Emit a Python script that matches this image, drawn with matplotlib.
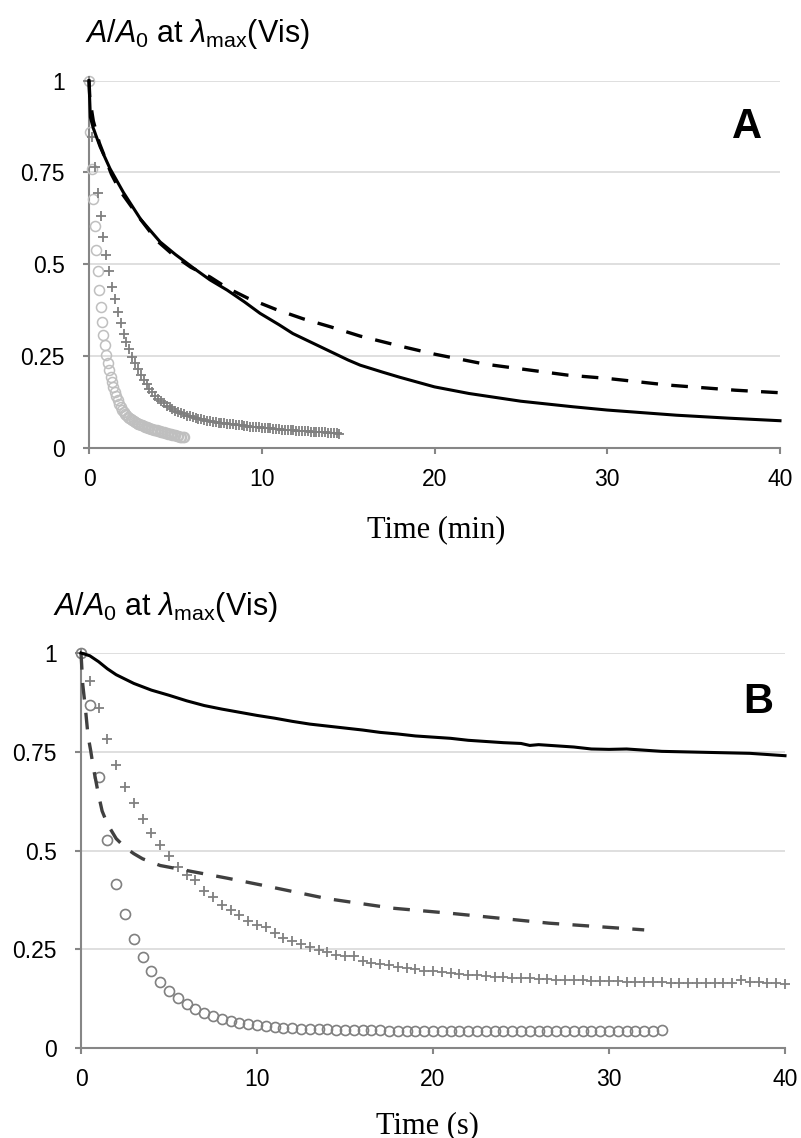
#!/usr/bin/env python3
# decay_panels.py

import matplotlib
matplotlib.use("Agg")
import matplotlib.pyplot as plt
import numpy as np

plt.rcParams["font.family"] = ["Liberation Sans", "DejaVu Sans"]
plt.rcParams["mathtext.fontset"] = "custom"
plt.rcParams["mathtext.rm"] = "Liberation Sans"
plt.rcParams["mathtext.it"] = "Liberation Sans:italic"
plt.rcParams["mathtext.bf"] = "Liberation Sans:bold"

# ---- panel A (time in minutes) ----
time_a_solid = [0, 0.03, 0.08, 0.25, 0.64, 1.22, 2.0, 3.0, 4.12, 5.0,
                6.05, 7.0, 8.0, 9.0, 9.9, 11.0, 11.8, 13.0, 13.8, 15.0,
                15.7, 17.0, 18.0, 20.0, 22.0, 25.0, 28.0, 30.0, 34.0, 37.0,
                40.0]
a_solid = [1.0, 0.96, 0.9, 0.87, 0.82, 0.76, 0.695, 0.622, 0.561, 0.527,
           0.49, 0.458, 0.43, 0.398, 0.367, 0.336, 0.312, 0.285, 0.267, 0.24,
           0.226, 0.207, 0.193, 0.167, 0.149, 0.128, 0.113, 0.104, 0.09, 0.082,
           0.075]

time_a_dash = [0, 0.05, 0.25, 0.6, 1.3, 1.8, 2.96, 3.92, 4.89, 5.9,
               7.0, 8.0, 9.2, 10.8, 12.4, 14.0, 15.7, 18.0, 20.0, 22.9,
               27.7, 30.0, 33.5, 37.4, 40.0]
a_dash = [1.0, 0.95, 0.89, 0.83, 0.745, 0.7, 0.624, 0.565, 0.525, 0.492,
          0.466, 0.436, 0.408, 0.378, 0.352, 0.33, 0.305, 0.278, 0.256, 0.229,
          0.199, 0.19, 0.172, 0.158, 0.151]

# crosses sampled every 10 s, circles every 5 s
cross_a_sec = [0, 10, 20, 30, 40, 50, 60, 70, 80, 90,
               100, 110, 120, 130, 140, 150, 160, 170, 180, 190,
               200, 210, 220, 230, 240, 250, 260, 270, 280, 290,
               300, 310, 320, 330, 340, 350, 360, 370, 380, 390,
               400, 410, 420, 430, 440, 450, 460, 470, 480, 490,
               500, 510, 520, 530, 540, 550, 560, 570, 580, 590,
               600, 610, 620, 630, 640, 650, 660, 670, 680, 690,
               700, 710, 720, 730, 740, 750, 760, 770, 780, 790,
               800, 810, 820, 830, 840, 850, 860, 870]
cross_a = [1.0, 0.846, 0.765, 0.693, 0.631, 0.575, 0.525, 0.483, 0.439, 0.406,
           0.371, 0.34, 0.312, 0.29, 0.269, 0.249, 0.231, 0.215, 0.199, 0.186,
           0.174, 0.162, 0.152, 0.143, 0.135, 0.128, 0.122, 0.116, 0.111, 0.106,
           0.102, 0.098, 0.095, 0.092, 0.089, 0.087, 0.085, 0.083, 0.081, 0.079,
           0.077, 0.075, 0.074, 0.072, 0.071, 0.07, 0.069, 0.068, 0.067, 0.066,
           0.065, 0.064, 0.063, 0.062, 0.061, 0.06, 0.059, 0.058, 0.058, 0.057,
           0.056, 0.055, 0.055, 0.054, 0.053, 0.053, 0.052, 0.051, 0.051, 0.05,
           0.049, 0.049, 0.048, 0.047, 0.047, 0.046, 0.046, 0.045, 0.045, 0.044,
           0.044, 0.043, 0.043, 0.042, 0.042, 0.041, 0.041, 0.04]

circle_a_sec = [0, 5, 10, 15, 20, 25, 30, 35, 40, 45,
                50, 55, 60, 65, 70, 75, 80, 85, 90, 95,
                100, 105, 110, 115, 120, 125, 130, 135, 140, 145,
                150, 155, 160, 165, 170, 175, 180, 185, 190, 195,
                200, 205, 210, 215, 220, 225, 230, 235, 240, 245,
                250, 255, 260, 265, 270, 275, 280, 285, 290, 295,
                300, 305, 310, 315, 320, 325, 330]
circle_a = [1.0, 0.86, 0.76, 0.679, 0.604, 0.539, 0.483, 0.43, 0.385, 0.344,
            0.308, 0.281, 0.254, 0.232, 0.212, 0.195, 0.18, 0.166, 0.153, 0.141,
            0.13, 0.12, 0.112, 0.105, 0.099, 0.094, 0.09, 0.086, 0.082, 0.079,
            0.076, 0.073, 0.071, 0.069, 0.067, 0.065, 0.063, 0.062, 0.06, 0.059,
            0.057, 0.056, 0.055, 0.053, 0.052, 0.051, 0.05, 0.049, 0.047, 0.046,
            0.045, 0.044, 0.043, 0.042, 0.041, 0.04, 0.039, 0.038, 0.037, 0.036,
            0.035, 0.034, 0.033, 0.032, 0.032, 0.031, 0.03]

# ---- panel B (time in seconds) ----
time_b_solid = [0, 0.5, 1, 1.5, 2, 3, 4, 5, 6, 7,
                8, 9, 10, 11, 12, 13, 14, 15, 16, 17,
                18, 19, 20, 21, 22, 23, 24, 25, 25.5, 26,
                27, 28, 29, 30, 31, 32, 33, 34, 35, 36,
                37, 38, 39, 40]
b_solid = [1.0, 0.993, 0.978, 0.96, 0.945, 0.923, 0.906, 0.893, 0.879, 0.867,
           0.858, 0.85, 0.842, 0.835, 0.827, 0.82, 0.815, 0.81, 0.805, 0.799,
           0.795, 0.79, 0.787, 0.784, 0.779, 0.776, 0.773, 0.771, 0.766, 0.768,
           0.765, 0.762, 0.757, 0.756, 0.757, 0.754, 0.751, 0.75, 0.749, 0.748,
           0.747, 0.746, 0.743, 0.74]

time_b_dash = [0, 0.1, 0.25, 0.4, 0.55, 0.7, 0.85, 1.0, 1.2, 1.5,
               2.0, 2.5, 3.0, 3.5, 4.5, 6.4, 8.3, 10.2, 14.0, 17.7,
               21.0, 26.6, 32.0]
b_dash = [1.0, 0.92, 0.86, 0.79, 0.753, 0.71, 0.675, 0.64, 0.6, 0.567,
          0.53, 0.508, 0.492, 0.479, 0.462, 0.446, 0.43, 0.413, 0.378, 0.354,
          0.341, 0.316, 0.299]

cross_b_sec = [0, 0.5, 1, 1.5, 2, 2.5, 3, 3.5, 4, 4.5,
               5, 5.5, 6, 6.5, 7, 7.5, 8, 8.5, 9, 9.5,
               10, 10.5, 11, 11.5, 12, 12.5, 13, 13.5, 14, 14.5,
               15, 15.5, 16, 16.5, 17, 17.5, 18, 18.5, 19, 19.5,
               20, 20.5, 21, 21.5, 22, 22.5, 23, 23.5, 24, 24.5,
               25, 25.5, 26, 26.5, 27, 27.5, 28, 28.5, 29, 29.5,
               30, 30.5, 31, 31.5, 32, 32.5, 33, 33.5, 34, 34.5,
               35, 35.5, 36, 36.5, 37, 37.5, 38, 38.5, 39, 39.5,
               40]
cross_b = [1.0, 0.93, 0.86, 0.782, 0.716, 0.661, 0.62, 0.579, 0.545, 0.514,
           0.486, 0.459, 0.438, 0.425, 0.398, 0.383, 0.363, 0.349, 0.337, 0.322,
           0.311, 0.306, 0.29, 0.279, 0.272, 0.263, 0.256, 0.249, 0.243, 0.236,
           0.234, 0.232, 0.219, 0.216, 0.212, 0.209, 0.205, 0.202, 0.199, 0.196,
           0.194, 0.192, 0.19, 0.188, 0.186, 0.185, 0.183, 0.181, 0.18, 0.178,
           0.177, 0.176, 0.175, 0.174, 0.173, 0.172, 0.171, 0.171, 0.17, 0.17,
           0.169, 0.169, 0.168, 0.168, 0.167, 0.166, 0.166, 0.165, 0.165, 0.165,
           0.164, 0.164, 0.164, 0.164, 0.165, 0.173, 0.167, 0.166, 0.165, 0.164,
           0.163]

circle_b_sec = [0, 0.5, 1, 1.5, 2, 2.5, 3, 3.5, 4, 4.5,
                5, 5.5, 6, 6.5, 7, 7.5, 8, 8.5, 9, 9.5,
                10, 10.5, 11, 11.5, 12, 12.5, 13, 13.5, 14, 14.5,
                15, 15.5, 16, 16.5, 17, 17.5, 18, 18.5, 19, 19.5,
                20, 20.5, 21, 21.5, 22, 22.5, 23, 23.5, 24, 24.5,
                25, 25.5, 26, 26.5, 27, 27.5, 28, 28.5, 29, 29.5,
                30, 30.5, 31, 31.5, 32, 32.5, 33]
circle_b = [1.0, 0.868, 0.687, 0.527, 0.414, 0.338, 0.276, 0.231, 0.196, 0.166,
            0.145, 0.127, 0.111, 0.099, 0.088, 0.082, 0.073, 0.068, 0.064, 0.061,
            0.058, 0.055, 0.053, 0.051, 0.05, 0.049, 0.048, 0.047, 0.047, 0.046,
            0.046, 0.045, 0.045, 0.045, 0.045, 0.044, 0.044, 0.044, 0.044, 0.044,
            0.044, 0.044, 0.044, 0.044, 0.044, 0.044, 0.044, 0.044, 0.044, 0.044,
            0.044, 0.044, 0.044, 0.044, 0.044, 0.044, 0.044, 0.044, 0.044, 0.044,
            0.044, 0.044, 0.044, 0.044, 0.044, 0.044, 0.045]

y_ticks = [0, 0.25, 0.5, 0.75, 1]
y_tick_labels = ["0", "0.25", "0.5", "0.75", "1"]
x_ticks = [0, 10, 20, 30, 40]

AXIS_GRAY = "#868686"
GRID_GRAY = "#d9d9d9"
DASH = (0, (5, 4))
W, H = 801, 1138


def style_axes(ax):
    ax.set_xlim(0, 40)
    ax.set_ylim(0, 1)
    ax.set_xticks(x_ticks)
    ax.set_yticks(y_ticks)
    ax.set_yticklabels(y_tick_labels)
    for side in ("top", "right"):
        ax.spines[side].set_visible(False)
    for side in ("left", "bottom"):
        ax.spines[side].set_color(AXIS_GRAY)
        ax.spines[side].set_linewidth(1.5)
    ax.grid(axis="y", color=GRID_GRAY, linewidth=1.2)
    ax.set_axisbelow(True)
    ax.tick_params(axis="x", direction="out", length=4.5, width=1.5,
                   color=AXIS_GRAY, labelsize=16.5, pad=10)
    ax.tick_params(axis="y", direction="out", length=4.5, width=1.5,
                   color=AXIS_GRAY, labelsize=16.5, pad=13)


def plot_a(ax):
    style_axes(ax)
    ax.plot(np.array(circle_a_sec) / 60, circle_a, "o", ms=7.2, mfc="none",
            mec="#bfbfbf", mew=1.1, clip_on=False, zorder=3)
    ax.plot(np.array(cross_a_sec) / 60, cross_a, "+", ms=7.5, mec="#7f7f7f",
            mew=1.3, clip_on=False, zorder=3)
    ax.plot(time_a_dash, a_dash, color="black", lw=2.4, linestyle=DASH,
            clip_on=False, zorder=4)
    ax.plot(time_a_solid, a_solid, color="black", lw=2.2, clip_on=False,
            zorder=4)
    ax.text((747 - 89) / 691, (448.3 - 138) / 367.8, "A",
            transform=ax.transAxes, fontsize=30, fontweight="bold",
            ha="center", va="baseline")


def plot_b(ax):
    style_axes(ax)
    ax.plot(circle_b_sec, circle_b, "o", ms=7.2, mfc="none", mec="#808080",
            mew=1.2, clip_on=False, zorder=3)
    ax.plot(cross_b_sec, cross_b, "+", ms=7.5, mec="#808080", mew=1.3,
            clip_on=False, zorder=3)
    ax.plot(time_b_dash, b_dash, color="#404040", lw=2.4, linestyle=DASH,
            clip_on=False, zorder=4)
    ax.plot(time_b_solid, b_solid, color="black", lw=2.2, clip_on=False,
            zorder=4)
    ax.text((758.5 - 81) / 704, (1048 - 713) / 395, "B",
            transform=ax.transAxes, fontsize=30, fontweight="bold",
            ha="center", va="baseline")


def main():
    fig = plt.figure(figsize=(W / 100, H / 100), dpi=100)
    ax_a = fig.add_axes([89 / W, 1 - 448.3 / H, (780 - 89) / W, 367.8 / H])
    ax_b = fig.add_axes([81 / W, 1 - 1048 / H, (785 - 81) / W, 395 / H])
    plot_a(ax_a)
    plot_b(ax_b)

    label = r"$A/A_0$ at $\lambda_{\mathrm{max}}$(Vis)"
    fig.text(85 / W, 1 - 42 / H, label, fontsize=22, ha="left",
             va="baseline")
    fig.text(53 / W, 1 - 615 / H, label, fontsize=22, ha="left",
             va="baseline")

    fig.text(436 / W, 1 - 537 / H, "Time (min)", family="Liberation Serif",
             fontsize=22, ha="center", va="baseline")
    fig.text(427 / W, 1 - 1133 / H, "Time (s)", family="Liberation Serif",
             fontsize=22, ha="center", va="baseline")

    fig.savefig("out.png", dpi=100)


if __name__ == "__main__":
    main()
